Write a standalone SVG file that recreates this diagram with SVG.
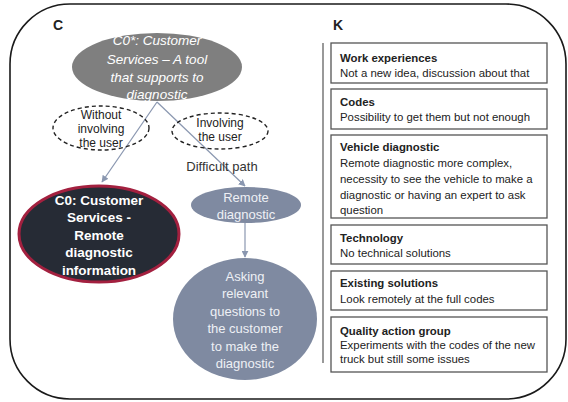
<svg xmlns="http://www.w3.org/2000/svg" width="568" height="402" viewBox="0 0 568 402">
<defs>
<marker id="arr" viewBox="0 0 10 10" refX="9" refY="5" markerWidth="7" markerHeight="7" orient="auto-start-reverse" markerUnits="userSpaceOnUse">
<path d="M0,0 L10,5 L0,10 z" fill="#8a97b0"/>
</marker>
<style>
.t{font-family:"Liberation Sans",Arial,sans-serif;text-anchor:middle}
.w{fill:#ffffff}
.it{font-style:italic;font-size:13.5px}
.dk{fill:#222222;font-size:12px}
.bw{font-weight:bold;font-size:13.5px}
.lt{fill:#eef0f5;font-size:13px}
.box{fill:#ffffff;stroke:#555555;stroke-width:1.3}
.kt{font-family:"Liberation Sans",Arial,sans-serif;font-size:11.4px;fill:#222222}
.kb{font-weight:bold}
.ln{stroke:#8a97b0;stroke-width:1.2;fill:none}
</style>
</defs>
<rect x="0" y="0" width="568" height="402" fill="#ffffff"/>
<rect x="10" y="4" width="556" height="395" rx="60" ry="60" fill="none" stroke="#1a1a1a" stroke-width="1.6"/>
<text x="53" y="30" style="font-family:'Liberation Sans',Arial,sans-serif;font-weight:bold;font-size:14px" fill="#222">C</text>
<text x="333" y="30" style="font-family:'Liberation Sans',Arial,sans-serif;font-weight:bold;font-size:14px" fill="#222">K</text>

<g id="connectors">
<line class="ln" x1="157" y1="102" x2="102" y2="182" marker-end="url(#arr)"/>
<line class="ln" x1="157" y1="102" x2="245" y2="186" marker-end="url(#arr)"/>
<line class="ln" x1="245" y1="223" x2="245" y2="257" marker-end="url(#arr)"/>
<text class="t" x="222" y="171" style="font-size:13px" fill="#333">Difficult path</text>
</g>

<g id="top">
<ellipse cx="157" cy="67" rx="85" ry="34" fill="#7f7f7f"/>
<text class="t w it" x="157" y="45">C0*: Customer</text>
<text class="t w it" x="157" y="64">Services – A tool</text>
<text class="t w it" x="157" y="82">that supports to</text>
<text class="t w it" x="157" y="99">diagnostic</text>
</g>

<g id="without">
<ellipse cx="101" cy="128" rx="48" ry="22" fill="none" stroke="#222" stroke-width="1.4" stroke-dasharray="4,3"/>
<text class="t dk" x="101" y="119">Without</text>
<text class="t dk" x="101" y="133">involving</text>
<text class="t dk" x="101" y="147">the user</text>
</g>

<g id="involving">
<ellipse cx="220" cy="131" rx="48" ry="18" fill="none" stroke="#222" stroke-width="1.4" stroke-dasharray="4,3"/>
<text class="t dk" x="220" y="127">Involving</text>
<text class="t dk" x="220" y="141">the user</text>
</g>

<g id="c0">
<ellipse cx="99" cy="234" rx="80" ry="48" fill="#262b35" stroke="#a3203f" stroke-width="3"/>
<text class="t w bw" x="99" y="205">C0: Customer</text>
<text class="t w bw" x="99" y="222">Services -</text>
<text class="t w bw" x="99" y="240">Remote</text>
<text class="t w bw" x="99" y="257">diagnostic</text>
<text class="t w bw" x="99" y="275">information</text>
</g>

<g id="remote">
<ellipse cx="246" cy="205" rx="55" ry="18" fill="#7f8aa1"/>
<text class="t lt" x="246" y="202">Remote</text>
<text class="t lt" x="246" y="219">diagnostic</text>
</g>

<g id="asking">
<ellipse cx="245" cy="319" rx="72" ry="61" fill="#7f8aa1"/>
<text class="t lt" x="245" y="281">Asking</text>
<text class="t lt" x="245" y="298">relevant</text>
<text class="t lt" x="245" y="316">questions to</text>
<text class="t lt" x="245" y="333">the customer</text>
<text class="t lt" x="245" y="351">to make the</text>
<text class="t lt" x="245" y="368">diagnostic</text>
</g>

<line x1="323" y1="43" x2="323" y2="363" stroke="#555" stroke-width="1.2"/>

<g id="k1">
<rect class="box" x="331" y="43" width="216" height="40"/>
<text class="kt kb" x="340" y="62">Work experiences</text>
<text class="kt" x="340" y="77">Not a new idea, discussion about that</text>
</g>
<g id="k2">
<rect class="box" x="331" y="89" width="216" height="40"/>
<text class="kt kb" x="340" y="106">Codes</text>
<text class="kt" x="340" y="121">Possibility to get them but not enough</text>
</g>
<g id="k3">
<rect class="box" x="331" y="135" width="216" height="83"/>
<text class="kt kb" x="340" y="151">Vehicle diagnostic</text>
<text class="kt" x="340" y="167">Remote diagnostic more complex,</text>
<text class="kt" x="340" y="183">necessity to see the vehicle to make a</text>
<text class="kt" x="340" y="199">diagnostic or having an expert to ask</text>
<text class="kt" x="340" y="214">question</text>
</g>
<g id="k4">
<rect class="box" x="331" y="225" width="216" height="39"/>
<text class="kt kb" x="340" y="242">Technology</text>
<text class="kt" x="340" y="257">No technical solutions</text>
</g>
<g id="k5">
<rect class="box" x="331" y="271" width="216" height="39"/>
<text class="kt kb" x="340" y="287">Existing solutions</text>
<text class="kt" x="340" y="303">Look remotely at the full codes</text>
</g>
<g id="k6">
<rect class="box" x="331" y="317" width="216" height="55"/>
<text class="kt kb" x="340" y="335">Quality action group</text>
<text class="kt" x="340" y="349">Experiments with the codes of the new</text>
<text class="kt" x="340" y="363">truck but still some issues</text>
</g>
</svg>
